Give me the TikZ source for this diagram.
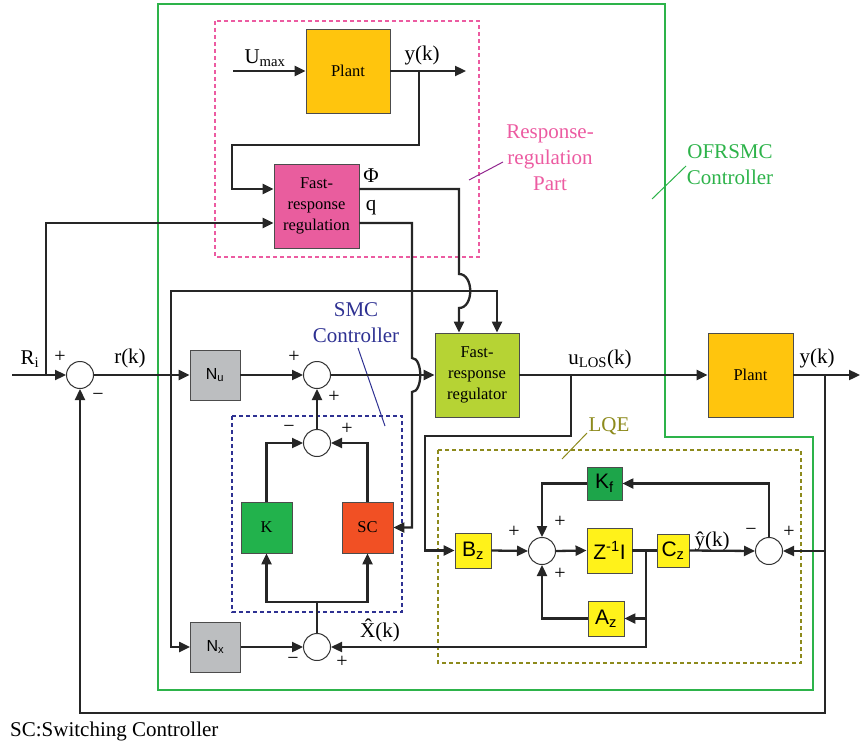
\documentclass[tikz,border=0pt]{standalone}
\usepackage{fontspec}
\setmainfont{Liberation Serif}
\newfontfamily\arialfont{Liberation Sans}
\usetikzlibrary{arrows.meta,calc}

\definecolor{plantcol}{HTML}{FFC50D}
\definecolor{frrcol}{HTML}{E95D9E}
\definecolor{frgcol}{HTML}{B6D334}
\definecolor{ngray}{HTML}{BCBEC0}
\definecolor{kgreen}{HTML}{22B24C}
\definecolor{scred}{HTML}{F15024}
\definecolor{lqy}{HTML}{FFF21A}
\definecolor{kfgreen}{HTML}{1DA54A}
\definecolor{ofrgreen}{HTML}{2DB34A}
\definecolor{rrpink}{HTML}{EC5BA1}
\definecolor{smcblue}{HTML}{2E3192}
\definecolor{lqolive}{HTML}{8D8A1C}
\definecolor{leadpurple}{HTML}{92278F}

\begin{document}
\begin{tikzpicture}[x=1pt,y=-1pt,
  wire/.style={line width=2.3pt,black!85},
  arr/.style={wire,-{Triangle[length=11pt,width=10pt]}},
  blk/.style={draw=black!70,line width=0.9pt,inner sep=0pt,align=center,
    font=\fontsize{16.5}{21}\selectfont},
  nblk/.style={blk,fill=ngray,minimum size=50pt,font=\arialfont\fontsize{16}{19}\selectfont},
  lblk/.style={blk,fill=lqy,font=\arialfont\fontsize{21}{24}\selectfont},
  sumc/.style={circle,draw=black!80,line width=1pt,fill=white,minimum size=27pt,inner sep=0pt},
  lbl/.style={inner sep=0pt,font=\fontsize{21}{24}\selectfont},
  sgn/.style={inner sep=0pt,font=\fontsize{20}{22}\selectfont},
  tag/.style={align=center,inner sep=0pt,font=\fontsize{21}{26}\selectfont},
  dashbox/.style={line width=2pt,dash pattern=on 4pt off 3pt}]
\useasboundingbox (0,0) rectangle (861,746);

% Controller frames
\draw[ofrgreen,line width=2.5pt] (158,4) -- (665,4) -- (665,437) -- (813,437) -- (813,690) -- (158,690) -- cycle;
\draw[dashbox,rrpink] (215,21) rectangle (479,257);
\draw[dashbox,smcblue] (232,416) rectangle (402,612);
\draw[dashbox,lqolive] (438,450) rectangle (801,663);

% Blocks
\node[blk,fill=plantcol,minimum width=84pt,minimum height=84pt] (plantA) at (348,71) {Plant};
\node[blk,fill=frrcol,minimum width=85pt,minimum height=84pt] (frr) at (316.5,206) {Fast-\\response\\regulation};
\node[blk,fill=frgcol,minimum width=84pt,minimum height=84pt] (frg) at (477,375) {Fast-\\response\\regulator};
\node[blk,fill=plantcol,minimum width=85pt,minimum height=84pt] (plantB) at (750.5,375) {Plant};
\node[nblk] (nu) at (215,375) {N\textsubscript{u}};
\node[nblk] (nx) at (215.5,647) {N\textsubscript{x}};
\node[blk,fill=kgreen,minimum size=51pt] (kbox) at (266.5,527.5) {K};
\node[blk,fill=scred,minimum size=51pt] (scbox) at (367.5,527.5) {SC};
\node[lblk,minimum width=36pt,minimum height=35pt] (bz) at (473,550.5) {B\textsubscript{z}};
\node[lblk,minimum size=45pt] (zi) at (609.5,550.5) {Z\textsuperscript{-1}I};
\node[lblk,minimum width=32pt,minimum height=33pt] (cz) at (673,550.5) {C\textsubscript{z}};
\node[lblk,minimum width=36pt,minimum height=35pt] (az) at (606,618.5) {A\textsubscript{z}};
\node[lblk,fill=kfgreen,minimum width=35pt,minimum height=33pt] (kf) at (604.5,483.5) {K\textsubscript{f}};

% Summing junctions
\node[sumc] (s1) at (80,375) {};
\node[sumc] (s2) at (317,375) {};
\node[sumc] (s3) at (317,443) {};
\node[sumc] (s4) at (317,647) {};
\node[sumc] (s5) at (542,551) {};
\node[sumc] (s6) at (769,551) {};

% Signs
\node[sgn] (s1a) at (60,357) {+};
\node[sgn] (s1b) at (98,397) {−};
\node[sgn] (s2a) at (294,357) {+};
\node[sgn] (s2b) at (334,397) {+};
\node[sgn] (s3a) at (289,429) {−};
\node[sgn] (s3b) at (347,429) {+};
\node[sgn] (s4a) at (293,661) {−};
\node[sgn] (s4b) at (342,662) {+};
\node[sgn] (s5a) at (514,532) {+};
\node[sgn] (s5b) at (560,522) {+};
\node[sgn] (s5c) at (560,574) {+};
\node[sgn] (s6a) at (751,532) {−};
\node[sgn] (s6b) at (789,532) {+};

% Signal labels
\node[lbl] (ri) at (30,359) {R\textsubscript{i}};
\node[lbl] (rk) at (130,358) {r(k)};
\node[lbl] (umaxl) at (265,58) {U\textsubscript{max}};
\node[lbl] (ykA) at (422,55) {y(k)};
\node[lbl] (phi) at (371,176) {Φ};
\node[lbl] (ql) at (371,208) {q};
\node[lbl] (ulos) at (600,359) {u\textsubscript{LOS}(k)};
\node[lbl] (ykB) at (817,358) {y(k)};
\node[lbl] (xhat) at (380,630) {\^{X}(k)};
\node[lbl] (yhat) at (712,541) {\^{y}(k)};

% Frame tags
\node[tag,text=smcblue] (smct) at (356,323) {SMC\\Controller};
\node[tag,text=rrpink] (rrt) at (550,158) {Response-\\regulation\\Part};
\node[tag,text=ofrgreen] (ofrt) at (730,165) {OFRSMC\\Controller};
\node[tag,text=lqolive] (lqet) at (609,426) {LQE};
\node[anchor=west,inner sep=0pt,font=\fontsize{21}{24}\selectfont] (note) at (10,731) {SC:Switching Controller};
\draw[smcblue,line width=1pt] (358,348) -- (385,426);
\draw[leadpurple,line width=1pt] (469,180) -- (503,162);
\draw[ofrgreen,line width=1pt] (652,199) -- (686,166);
\draw[lqolive,line width=1pt] (562,459) -- (587,433);

% Points on the wires
\coordinate (umax) at (233,71);
\coordinate (yout) at (466,71);
\coordinate (ybrA) at (419,71);
\coordinate (rin) at (12,375);
\coordinate (ribr) at (46,375);
\coordinate (rjn) at (171,375);
\coordinate (frrA) at ($(frr.west)+(0,-17)$);
\coordinate (frrB) at ($(frr.west)+(0,17)$);
\coordinate (phiout) at ($(frr.east)+(0,-17)$);
\coordinate (qout) at ($(frr.east)+(0,17)$);
\coordinate (frgA) at ($(frg.north)+(-18,0)$);
\coordinate (frgB) at ($(frg.north)+(20,0)$);
\coordinate (smcsplit) at (317,602);
\coordinate (ubr) at (571,375);
\coordinate (zbr) at (646,550.5);
\coordinate (ybrB) at (825,375);
\coordinate (yend) at (860,375);
\coordinate (fbl) at (80,713);

% Response-regulation part
\draw[arr] (umax) -- (plantA.west);
\draw[arr] (plantA.east) -- (yout);
\draw[arr] (ybrA) |- (232,145) |- (frrA);
\draw[arr] (ribr) |- (frrB);
\draw[arr] (phiout) -- (459,189) -- (459,274) .. controls (474,274) and (474,308) .. (459,308) -- (frgA);
\draw[arr] (qout) -- (412,223) -- (412,358) .. controls (423,358) and (423,392) .. (412,392) |- (scbox.east);

% Main loop
\draw[arr] (rin) -- (s1.west);
\draw[arr] (s1.east) -- (nu.west);
\draw[arr] (rjn) -- (171,291) -| (frgB);
\draw[arr] (rjn) |- (nx.west);
\draw[arr] (nu.east) -- (s2.west);
\draw[arr] (s2.east) -- (frg.west);
\draw[arr] (frg.east) -- (plantB.west);
\draw[arr] (plantB.east) -- (yend);
\draw[arr] (ybrB) |- (fbl) -- (s1.south);

% SMC controller
\draw[arr] (s3.north) -- (s2.south);
\draw[arr] (kbox.north) |- (s3.west);
\draw[arr] (scbox.north) |- (s3.east);
\draw[wire] (s4.north) -- (smcsplit);
\draw[arr] (smcsplit) -| (kbox.south);
\draw[arr] (smcsplit) -| (scbox.south);
\draw[arr] (nx.east) -- (s4.west);

% LQE
\draw[arr] (ubr) |- (425,436) |- (bz.west);
\draw[arr] (bz.east) -- (s5.west);
\draw[arr] (s5.east) -- (zi.west);
\draw[wire] (zi.east) -- (cz.west);
\draw[arr] (cz.east) -- (s6.west);
\draw[arr] (ybrB) |- (s6.east);
\draw[arr] (s6.north) |- (kf.east);
\draw[arr] (kf.west) -| (s5.north);
\draw[arr] (zbr |- az.east) -- (az.east);
\draw[arr] (az.west) -| (s5.south);
\draw[arr] (zbr) |- (s4.east);
\end{tikzpicture}
\end{document}
